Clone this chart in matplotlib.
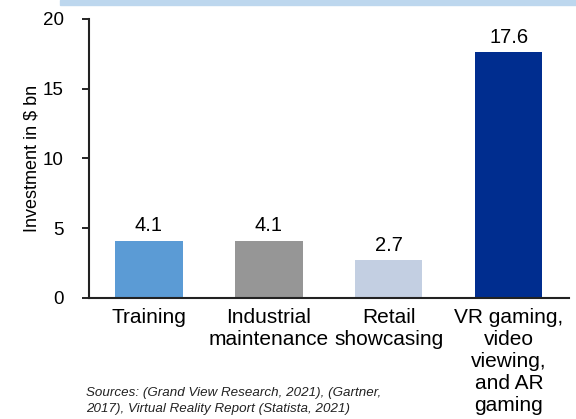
import matplotlib.pyplot as plt
from matplotlib.patches import Rectangle

plt.rcParams['font.family'] = ['Liberation Sans', 'DejaVu Sans']

# Inversión estimada por caso de uso (miles de millones de $)
categorias = ["Training", "Industrial\nmaintenance", "Retail\nshowcasing",
              "VR gaming,\nvideo\nviewing,\nand AR\ngaming"]
valores = [4.1, 4.1, 2.7, 17.6]
colores = ["#5B9BD5", "#969696", "#C3CFE2", "#002D8F"]
ticks_y = [0, 5, 10, 15, 20]

fig = plt.figure(figsize=(5.76, 4.19), dpi=100)
ax = fig.add_axes([0.1545, 0.2888, 0.833, 0.6659])

# franja azul superior
fig.patches.append(Rectangle((60 / 576, 1 - 5 / 419), 1, 5 / 419,
                             transform=fig.transFigure, color="#BDD7EE",
                             zorder=0))

x = range(len(valores))
barras = ax.bar(x, valores, width=0.56, color=colores)
for xi, v in zip(x, valores):
    ax.text(xi, v + 0.4, f"{v:.1f}", ha="center", va="bottom", fontsize=14.5)

ax.set_xlim(-0.5, 3.5)
ax.set_ylim(0, 20)
ax.set_yticks(ticks_y)
ax.set_xticks(list(x))
ax.set_xticklabels(categorias, fontsize=15, linespacing=1.2)
ax.tick_params(axis="x", length=0, pad=7)
ax.tick_params(axis="y", labelsize=13.5, length=5, width=1.2, direction="out",
               pad=13)
ax.set_ylabel("Investment in $ bn", fontsize=13, labelpad=2)

for lado in ["top", "right"]:
    ax.spines[lado].set_visible(False)
for lado in ["left", "bottom"]:
    ax.spines[lado].set_linewidth(1.5)
    ax.spines[lado].set_color("#222222")

fig.text(86 / 576, 1 - 415 / 419,
         "Sources: (Grand View Research, 2021), (Gartner,\n"
         "2017), Virtual Reality Report (Statista, 2021)",
         fontsize=9.6, style="italic", color="#222222", va="bottom",
         linespacing=1.4)

fig.savefig("out.png", dpi=100)
